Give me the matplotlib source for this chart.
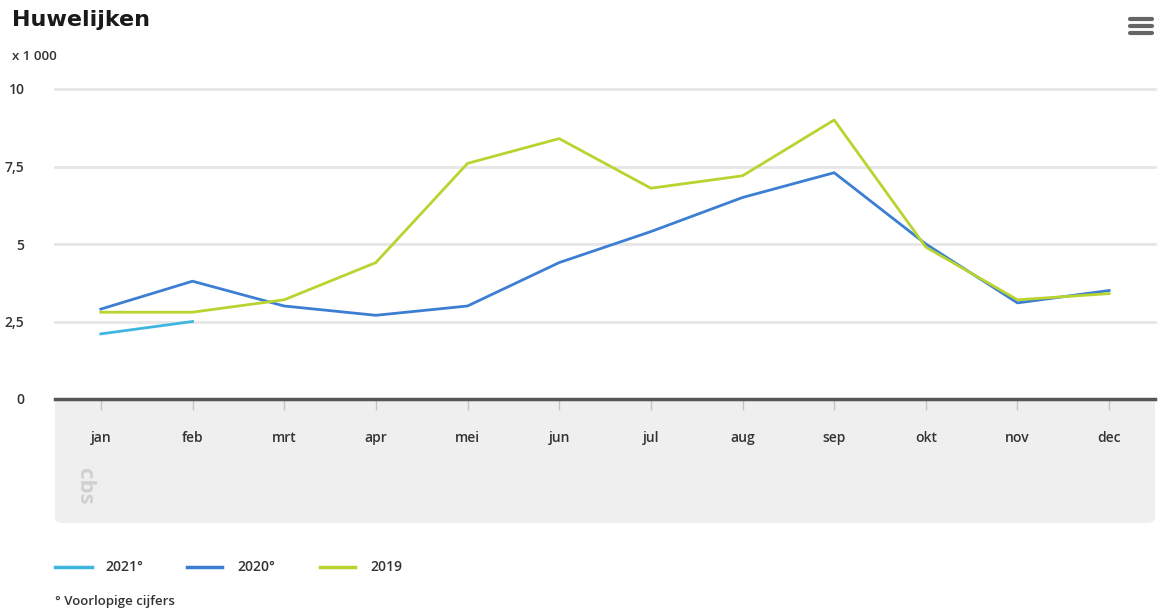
import matplotlib
matplotlib.use("Agg")
import matplotlib.pyplot as plt
from matplotlib.patches import FancyBboxPatch
from matplotlib.lines import Line2D

months = ["jan", "feb", "mrt", "apr", "mei", "jun", "jul", "aug", "sep", "okt", "nov", "dec"]
y2021 = [2.1, 2.5]
y2020 = [2.9, 3.8, 3.0, 2.7, 3.0, 4.4, 5.4, 6.5, 7.3, 5.0, 3.1, 3.5]
y2019 = [2.8, 2.8, 3.2, 4.4, 7.6, 8.4, 6.8, 7.2, 9.0, 4.9, 3.2, 3.4]
yticks = [0, 2.5, 5, 7.5, 10]
ytick_labels = ["0", "2,5", "5", "7,5", "10"]
series_names = ["2021°", "2020°", "2019"]
colors = ["#3fb6e0", "#3c7fd2", "#b9d32f"]

plt.rcParams['font.family'] = ['Open Sans', 'DejaVu Sans']

W, H = 1165, 611
fig = plt.figure(figsize=(W / 100, H / 100), dpi=100)

def fx(px):
    return px / W

def fy(py):
    return 1 - py / H

# gray band below axis
band = FancyBboxPatch((fx(55), fy(523)), fx(1155) - fx(55), fy(385) - fy(523),
                      boxstyle="round,pad=0,rounding_size=0.008",
                      transform=fig.transFigure, facecolor="#efefef",
                      edgecolor="none", zorder=0)
fig.patches.append(band)

ax = fig.add_axes([fx(55), fy(399), fx(1155) - fx(55), fy(89) - fy(399)], zorder=1)
ax.set_facecolor("white")
x = list(range(len(months)))
ax.plot(x[:len(y2021)], y2021, color=colors[0], lw=2, clip_on=False, zorder=4)
ax.plot(x, y2020, color=colors[1], lw=2, clip_on=False, zorder=3)
ax.plot(x, y2019, color=colors[2], lw=2, clip_on=False, zorder=3)

ax.set_xlim(-0.5, 11.5)
ax.set_ylim(0, 10)
ax.set_yticks(yticks)
ax.set_yticklabels(ytick_labels)
for v in yticks[1:]:
    ax.axhline(v, color="#e6e6e6", lw=2, zorder=1, clip_on=False)
ax.axhline(0, color="#555555", lw=2.5, zorder=5, clip_on=False)
for s in ax.spines.values():
    s.set_visible(False)
ax.tick_params(axis="y", length=0, pad=22, labelsize=10, labelcolor="#333333")
ax.set_xticks(x)
ax.set_xticklabels(months)
ax.tick_params(axis="x", length=8, width=1, color="#c4c4c4", pad=15,
               labelsize=10, labelcolor="#333333")
for lbl in ax.get_xticklabels() + ax.get_yticklabels():
    lbl.set_fontweight("semibold")

# title and unit
fig.text(fx(12), fy(20), "Huwelijken", fontsize=16, fontweight="bold",
         color="#1a1a1a", va="center", ha="left", family=["DejaVu Sans"])
fig.text(fx(12), fy(57), "x 1 000", fontsize=9.5, color="#333333", va="center",
         ha="left", fontweight="semibold")

# menu icon
for yy in [19, 26, 33]:
    fig.add_artist(Line2D([fx(1130), fx(1152)], [fy(yy), fy(yy)], color="#666666",
                          lw=3, transform=fig.transFigure, solid_capstyle="round"))

# cbs logo approximation
fig.text(fx(85), fy(486), "cbs", rotation=-90, fontsize=16, color="#d0d0d0",
         fontweight="bold", ha="center", va="center")

# legend
lx = [(55, 92, 105), (187, 222, 237), (320, 355, 370)]
for (a, b, t), name, c in zip(lx, series_names, colors):
    fig.add_artist(Line2D([fx(a), fx(b)], [fy(567), fy(567)], color=c, lw=2.5,
                          transform=fig.transFigure))
    fig.text(fx(t), fy(567), name, fontsize=10, color="#333333", va="center",
             ha="left", fontweight="semibold")

fig.text(fx(55), fy(601), "° Voorlopige cijfers", fontsize=9.5, color="#333333",
         va="center", ha="left", fontweight="semibold")

fig.savefig("out.png", dpi=100, facecolor="white")
